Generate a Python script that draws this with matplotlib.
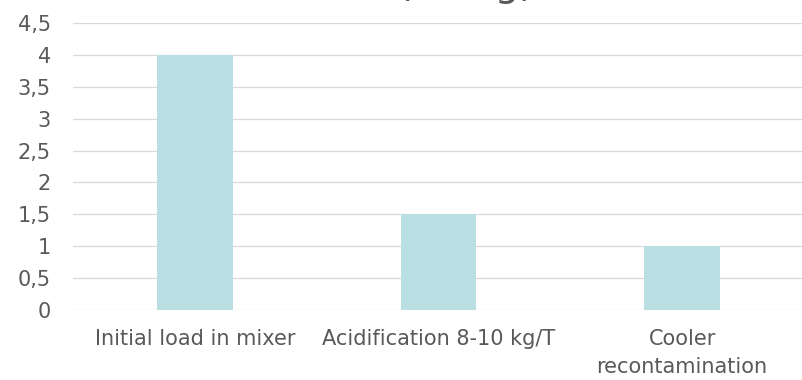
import matplotlib
matplotlib.use("Agg")
import matplotlib.pyplot as plt

# Bacterial load at each processing step (log units)
categories = ["Initial load in mixer", "Acidification 8-10 kg/T", "Cooler\nrecontamination"]
values = [4, 1.5, 1]
y_ticks = [0, 0.5, 1, 1.5, 2, 2.5, 3, 3.5, 4, 4.5]
y_tick_labels = ["0", "0,5", "1", "1,5", "2", "2,5", "3", "3,5", "4", "4,5"]
title_text = "Salmonella load (in log)"

BAR_COLOR = "#BADFE3"
GRID_COLOR = "#D9D9D9"
TEXT_COLOR = "#595959"
FONT = ["DejaVu Sans"]

W, H = 803, 380
fig = plt.figure(figsize=(W / 100, H / 100), dpi=100)
ax = fig.add_axes([73 / W, (H - 310) / H, 731 / W, (310 - 23) / H])

x = list(range(len(categories)))
ax.bar(x, values, width=0.31, color=BAR_COLOR, zorder=2)

ax.set_xlim(-0.5, len(categories) - 0.5)
ax.set_ylim(0, 4.5)
ax.set_yticks(y_ticks)
ax.set_yticklabels(y_tick_labels, family=FONT, fontsize=15, color=TEXT_COLOR)
ax.set_xticks(x)
ax.set_xticklabels(categories, family=FONT, fontsize=15, color=TEXT_COLOR,
                   linespacing=1.45)
ax.tick_params(axis="y", length=0, pad=16)
ax.tick_params(axis="x", length=0, pad=14)

ax.grid(axis="y", color=GRID_COLOR, linewidth=0.9, zorder=0)
for s in ax.spines.values():
    s.set_visible(False)

# Chart title sits just above the top edge of the canvas
fig.text(534 / W, 1.0 + 4 / H, title_text, ha="right", va="baseline",
         family=FONT, fontsize=28, color=TEXT_COLOR)

fig.savefig("out.png", dpi=100)
